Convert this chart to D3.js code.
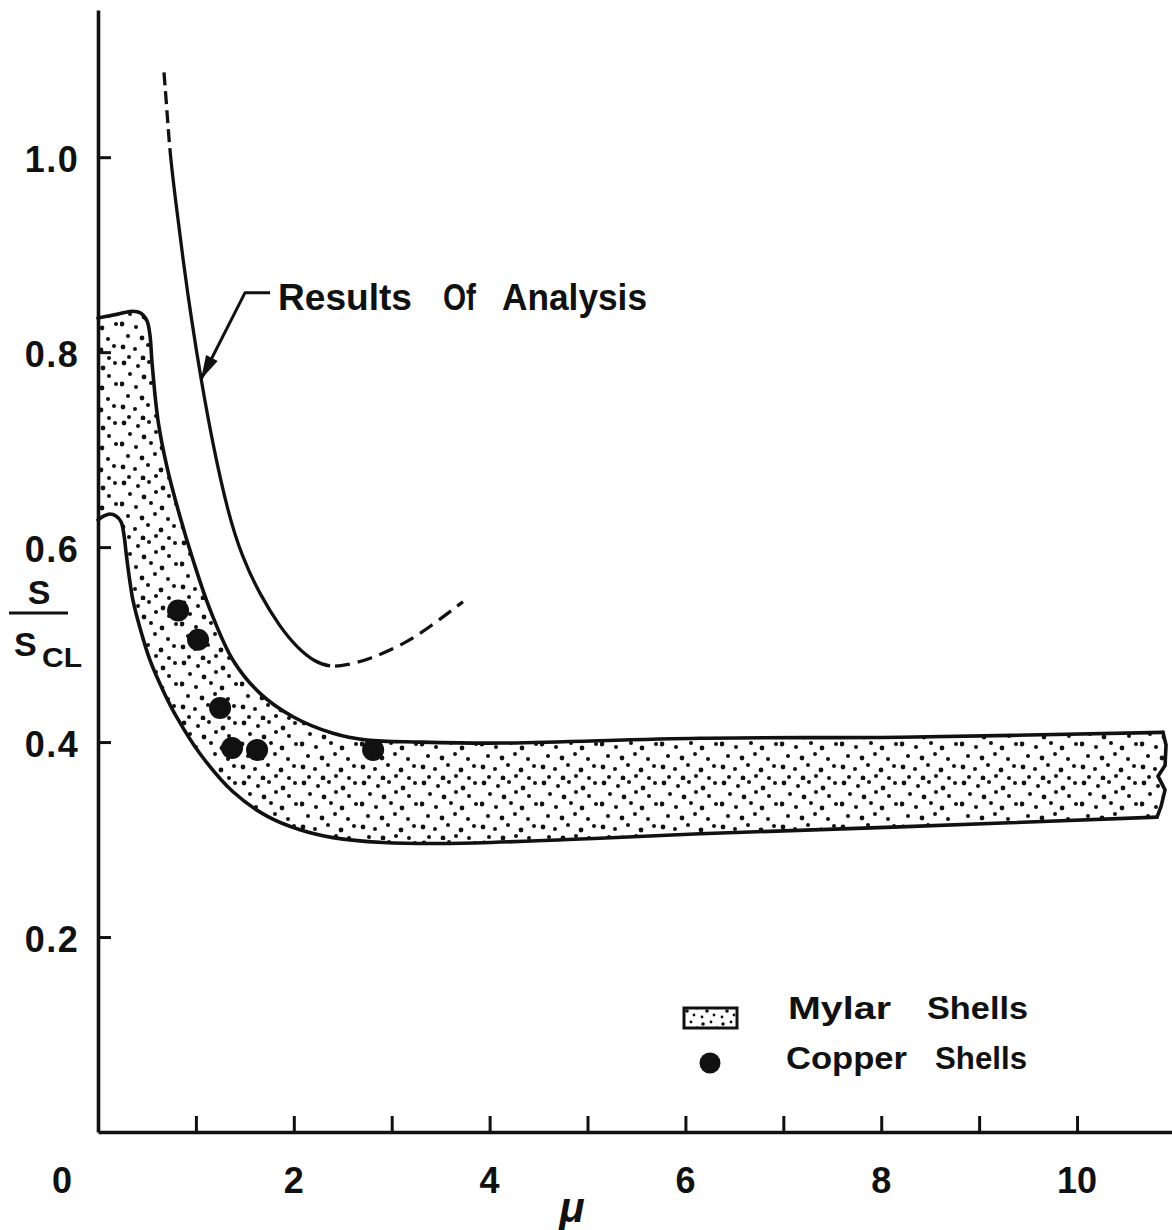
<!DOCTYPE html>
<html>
<head>
<meta charset="utf-8">
<script src="https://cdn.jsdelivr.net/npm/d3@7"></script>
<style>
  html, body { margin: 0; padding: 0; background: #fff; }
  svg { display: block; }
  text { font-family: "Liberation Sans", Arial, sans-serif; font-weight: bold; fill: #111; }
</style>
</head>
<body>
<svg id="chart" width="1172" height="1230"></svg>
<script>
// ---- Data: points are [mu, S/S_CL] ----

// Mylar shells: upper limit of the scatter band
const bandUpper = [[0,0.835],[0.204,0.839],[0.347,0.842],[0.439,0.840],[0.501,0.832],[0.531,0.817],
  [0.552,0.789],[0.613,0.730],[0.705,0.682],[0.827,0.635],[0.970,0.587],[1.144,0.536],[1.379,0.484],
  [1.655,0.450],[1.992,0.426],[2.400,0.409],[2.748,0.402],[3.289,0.400],[4.106,0.399],[6.149,0.404],
  [8.192,0.405],[10.878,0.410]];
// Mylar shells: broken-off right end of the band
const bandBreak = [[10.878,0.410],[10.909,0.397],[10.899,0.376],[10.827,0.365],[10.899,0.351],
  [10.858,0.334],[10.817,0.323]];
// Mylar shells: lower limit of the scatter band
const bandLower = [[0,0.628],[0.061,0.632],[0.123,0.634],[0.184,0.632],[0.235,0.626],[0.266,0.612],
  [0.286,0.595],[0.317,0.571],[0.358,0.545],[0.429,0.517],[0.531,0.484],[0.664,0.453],[0.807,0.425],
  [1.042,0.388],[1.379,0.349],[1.726,0.324],[2.063,0.310],[2.400,0.302],[2.911,0.297],[3.596,0.296],
  [4.800,0.300],[6.149,0.306],[8.192,0.313],[10.817,0.323]];

// Results of analysis: dashed top, solid middle, dashed rising tail
const analysisTop = [[0.674,1.087],[0.705,1.047],[0.735,1.004]];
const analysisSolid = [[0.735,1.004],[0.792,0.956],[0.868,0.895],[0.955,0.833],[1.052,0.772],
  [1.175,0.704],[1.328,0.635],[1.471,0.590],[1.655,0.551],[1.859,0.518],[2.033,0.497],
  [2.217,0.482],[2.370,0.477]];
const analysisTail = [[2.370,0.477],[2.543,0.479],[2.778,0.485],[3.115,0.500],[3.391,0.518],[3.728,0.544]];

// Copper shells: test points
const copperShells = [[0.818,0.535],[1.022,0.505],[1.247,0.435],[1.369,0.394],[1.625,0.392],[2.810,0.392]];

// Axes
const xTicks = [1,2,3,4,5,6,7,8,9,10];
const xTickLabels = [0,2,4,6,8,10];
const yTicks = [0.2,0.4,0.6,0.8,1.0];

// Annotation leader: arrow tip on the curve, elbow, end of the horizontal stroke
const leader = [[1.052,0.772],[1.502,0.861],[1.758,0.861]];
const annotationWords = ["Results", "Of", "Analysis"];

// ---- Drawing ----
const ink = "#111";
const svg = d3.select("#chart");

const x = d3.scaleLinear().domain([0, 10.97]).range([98, 1172]);
const y = d3.scaleLinear().domain([0, 1.151]).range([1132, 10]);

// Stipple texture for the Mylar band
const defs = svg.append("defs");
function stipple(id, size, pts, r) {
  const p = defs.append("pattern").attr("id", id)
    .attr("patternUnits", "userSpaceOnUse").attr("width", size).attr("height", size);
  p.append("rect").attr("width", size).attr("height", size).attr("fill", "#fff");
  p.selectAll("circle").data(pts).join("circle")
    .attr("cx", d => d[0]).attr("cy", d => d[1]).attr("r", (d, i) => r + (i % 3 === 0 ? 0.4 : 0))
    .attr("fill", ink);
}
stipple("dots", 60, [
  [4,3],[18,6],[29,2],[43,8],[55,3],
  [10,14],[24,17],[36,12],[49,16],
  [2,24],[16,27],[31,23],[42,28],[56,24],
  [8,36],[22,38],[35,34],[48,39],
  [3,47],[15,49],[28,45],[41,50],[54,46],
  [9,57],[23,58],[36,56],[49,58]
], 2.0);
stipple("dotsDense", 20, [[3,4],[11,2],[17,8],[7,11],[14,15],[2,17]], 1.4);

const line = d3.line().x(d => x(d[0])).y(d => y(d[1])).curve(d3.curveCatmullRom.alpha(0.5));
const lineSmooth = d3.line().x(d => x(d[0])).y(d => y(d[1])).curve(d3.curveBasis);
const lineStraight = d3.line().x(d => x(d[0])).y(d => y(d[1]));

// Band fill: upper edge, broken end, lower edge back to the axis
const fillPath = line(bandUpper) + lineStraight(bandBreak).replace(/^M/, "L")
  + line(bandLower.slice().reverse()).replace(/^M/, "L") + "Z";
svg.append("path").attr("d", fillPath).attr("fill", "url(#dots)").attr("stroke", "none");

const outline = svg.append("g").attr("fill", "none").attr("stroke", ink)
  .attr("stroke-width", 3.6).attr("stroke-linejoin", "round").attr("stroke-linecap", "round");
outline.append("path").attr("d", line(bandUpper));
outline.append("path").attr("d", lineStraight(bandBreak));
outline.append("path").attr("d", line(bandLower));

// Results of analysis: one smooth path, dashed at both ends
const analysisAll = analysisTop.concat(analysisSolid.slice(1), analysisTail.slice(1));
const curvePath = svg.append("path").attr("d", lineSmooth(analysisAll))
  .attr("fill", "none").attr("stroke", ink).attr("stroke-width", 3.3);
{
  const node = curvePath.node();
  const total = node.getTotalLength();
  const lengthAtX = px => {
    let lo = 0, hi = total;
    for (let k = 0; k < 40; k++) {
      const mid = (lo + hi) / 2;
      if (node.getPointAtLength(mid).x < px) lo = mid; else hi = mid;
    }
    return (lo + hi) / 2;
  };
  const L1 = lengthAtX(x(analysisTop[analysisTop.length - 1][0]));
  const L2 = lengthAtX(x(analysisTail[0][0]));
  const dash = [];
  let pos = 0;
  while (pos < L1) {
    const d = Math.min(13, L1 - pos); dash.push(d); pos += d;
    const g = Math.min(6, Math.max(L1 - pos, 0)); dash.push(g); pos += g;
    if (g === 0) break;
  }
  dash.push(L2 - pos); dash.push(5); pos = L2 + 5;
  while (pos < total) { dash.push(15); dash.push(8); pos += 23; }
  curvePath.attr("stroke-dasharray", dash.map(v => v.toFixed(2)).join(" "));
}

// Copper shell points
svg.append("g").selectAll("circle").data(copperShells).join("circle")
  .attr("cx", d => x(d[0])).attr("cy", d => y(d[1])).attr("r", 11).attr("fill", ink);

// Leader with arrowhead
const lp = leader.map(d => [x(d[0]), y(d[1])]);
svg.append("polyline").attr("points", lp.map(p => p.join(",")).join(" "))
  .attr("fill", "none").attr("stroke", ink).attr("stroke-width", 3).attr("stroke-linejoin", "round");
{
  const [tx, ty] = lp[0], [ex, ey] = lp[1];
  const len = Math.hypot(ex - tx, ey - ty), ux = (ex - tx) / len, uy = (ey - ty) / len;
  const L = 24, W = 6.5;
  const bx = tx + ux * L, by = ty + uy * L;
  svg.append("path")
    .attr("d", `M${tx},${ty}L${bx - uy * W},${by + ux * W}L${bx + uy * W},${by - ux * W}Z`)
    .attr("fill", ink);
}

// Annotation text, word by word
const annX = [278, 443, 502], annW = [134, 33, 145];
svg.append("g").selectAll("text").data(annotationWords).join("text")
  .attr("x", (d, i) => annX[i]).attr("y", 310).attr("font-size", 36)
  .attr("textLength", (d, i) => annW[i]).attr("lengthAdjust", "spacingAndGlyphs")
  .text(d => d);

// Y axis
const gy = svg.append("g").attr("transform", `translate(${x(0)},0)`)
  .call(d3.axisLeft(y).tickValues(yTicks).tickSize(-13).tickSizeOuter(0).tickFormat(d3.format(".1f")));
gy.select(".domain").attr("stroke", ink).attr("stroke-width", 3.6);
gy.selectAll(".tick line").attr("stroke", ink).attr("stroke-width", 3);
gy.selectAll(".tick text").attr("x", -46).attr("dy", 14).attr("text-anchor", "middle")
  .attr("font-size", 36).attr("font-family", null).attr("fill", ink).attr("letter-spacing", 1.5);

// X axis
const gx = svg.append("g").attr("transform", `translate(0,${y(0)})`)
  .call(d3.axisBottom(x).tickValues(xTicks).tickSize(-16).tickSizeOuter(0).tickFormat(""));
gx.select(".domain").attr("stroke", ink).attr("stroke-width", 3.6);
gx.selectAll(".tick line").attr("stroke", ink).attr("stroke-width", 3);
svg.append("g").selectAll("text").data(xTickLabels).join("text")
  .attr("x", d => d === 0 ? x(d) - 36 : x(d)).attr("y", 1193)
  .attr("text-anchor", "middle").attr("font-size", 36).text(d => d);

// Axis titles
svg.append("text").attr("x", 572).attr("y", 1222).attr("text-anchor", "middle")
  .attr("font-size", 42).attr("font-style", "italic")
  .attr("font-family", "'Liberation Serif', serif").text("μ");
svg.append("text").attr("x", 39).attr("y", 604).attr("text-anchor", "middle")
  .attr("font-size", 34).text("S");
svg.append("line").attr("x1", 9).attr("x2", 68).attr("y1", 613).attr("y2", 613)
  .attr("stroke", ink).attr("stroke-width", 3);
svg.append("text").attr("x", 14).attr("y", 656).attr("font-size", 34).text("S");
svg.append("text").attr("x", 42).attr("y", 667).attr("font-size", 27)
  .attr("textLength", 40).attr("lengthAdjust", "spacingAndGlyphs").text("CL");

// Legend
const legend = svg.append("g");
legend.append("rect").attr("x", 684).attr("y", 1008).attr("width", 53).attr("height", 20)
  .attr("fill", "url(#dotsDense)").attr("stroke", ink).attr("stroke-width", 3);
legend.append("circle").attr("cx", 710).attr("cy", 1063).attr("r", 10.5).attr("fill", ink);
const legendWords = [
  {t: "Mylar", x: 788, w: 103, y: 1019}, {t: "Shells", x: 927, w: 101, y: 1019},
  {t: "Copper", x: 786, w: 121, y: 1069}, {t: "Shells", x: 935, w: 92, y: 1069}
];
legend.selectAll("text").data(legendWords).join("text")
  .attr("x", d => d.x).attr("y", d => d.y).attr("font-size", 32)
  .attr("textLength", d => d.w).attr("lengthAdjust", "spacingAndGlyphs").text(d => d.t);
</script>
</body>
</html>
